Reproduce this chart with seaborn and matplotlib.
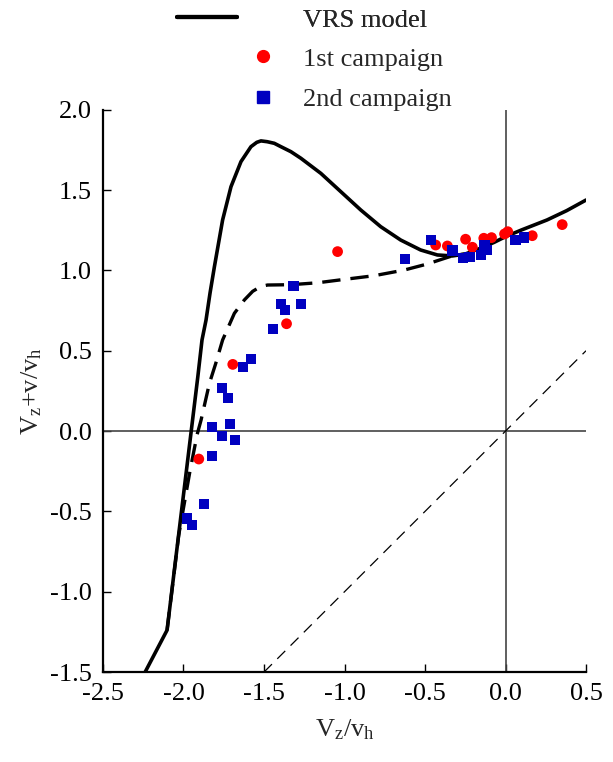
import numpy as np
import pandas as pd
import seaborn as sns
import matplotlib.pyplot as plt
from matplotlib.lines import Line2D

# VRS model (solid)
vrs_x = [-2.242, -2.102, -1.952, -1.911, -1.885, -1.860, -1.835,
         -1.808, -1.757, -1.705, -1.643, -1.581, -1.545, -1.519, -1.48, -1.436, -1.395,
         -1.333, -1.271, -1.147, -1.023, -0.899, -0.775, -0.651, -0.527, -0.423, -0.33,
         -0.25, -0.155, -0.07, 0.0, 0.1, 0.258, 0.38, 0.5]
vrs_y = [-1.507, -1.239, 0.0, 0.338, 0.567, 0.691, 0.86,
         1.023, 1.314, 1.521, 1.677, 1.770, 1.797, 1.806, 1.801, 1.791, 1.770,
         1.739, 1.698, 1.604, 1.490, 1.376, 1.272, 1.189, 1.127, 1.096, 1.090,
         1.102, 1.138, 1.175, 1.210, 1.252, 1.314, 1.372, 1.438]

# lower branch (dashed)
low_x = [-2.102, -2.03, -1.96, -1.915, -1.891, -1.839, -1.80, -1.757, -1.684, -1.622,
         -1.57, -1.52, -1.478, -1.333, -1.167, -1.002, -0.816, -0.630, -0.485, -0.40,
         -0.32, -0.25]
low_y = [-1.239, -0.65, -0.25, -0.02, 0.068, 0.297, 0.42, 0.567, 0.733, 0.816,
         0.870, 0.900, 0.909, 0.911, 0.923, 0.944, 0.967, 1.002, 1.040, 1.068,
         1.094, 1.102]

# y = x reference line
diag_x = [-1.5, 0.5]
diag_y = [-1.5, 0.5]

# 1st campaign
c1_x = [-1.043, -1.36, -1.694, -1.905, -0.434, -0.361, -0.248, -0.206, -0.135,
        -0.087, -0.006, 0.014, 0.166, 0.352]
c1_y = [1.117, 0.668, 0.415, -0.174, 1.158, 1.152, 1.194, 1.144, 1.200,
        1.204, 1.227, 1.241, 1.216, 1.285]

# 2nd campaign
c2_x = [-0.461, -0.626, -0.33, -0.262, -0.223, -0.151, -0.130, -0.114, 0.062, 0.113,
        -1.316, -1.395, -1.370, -1.271, -1.445, -1.581, -1.630,
        -1.763, -1.724, -1.825, -1.711, -1.763, -1.680, -1.825, -1.874, -1.978, -1.947]
c2_y = [1.189, 1.071, 1.123, 1.079, 1.085, 1.096, 1.158, 1.127, 1.189, 1.204,
        0.903, 0.793, 0.753, 0.793, 0.635, 0.450, 0.400,
        0.270, 0.205, 0.025, 0.044, -0.031, -0.054, -0.156, -0.453, -0.544, -0.585]

x_ticks = [-2.5, -2.0, -1.5, -1.0, -0.5, 0.0, 0.5]
y_ticks = [-1.5, -1.0, -0.5, 0.0, 0.5, 1.0, 1.5, 2.0]

RED = '#ff0000'
BLUE = '#0000c0'
FS = 19

sns.set_style('ticks')
plt.rcParams['font.family'] = ['Liberation Serif', 'DejaVu Serif']
plt.rcParams['mathtext.fontset'] = 'custom'
plt.rcParams['mathtext.rm'] = 'Liberation Serif'
plt.rcParams['mathtext.it'] = 'Liberation Serif'

fig = plt.figure(figsize=(6.13, 7.62), dpi=100)
ax = fig.add_axes([0.168, 0.118, 0.788, 0.738])

ax.axhline(0, color='#444444', lw=1.2, zorder=1)
ax.axvline(0, color='#444444', lw=1.2, zorder=1)

sns.lineplot(x=diag_x, y=diag_y, ax=ax, color='black', lw=0.9,
             estimator=None, zorder=2)
ax.lines[-1].set_dashes((9, 6))
sns.lineplot(x=vrs_x, y=vrs_y, ax=ax, color='black', lw=2.6,
             estimator=None, sort=False, zorder=3)
sns.lineplot(x=low_x, y=low_y, ax=ax, color='black', lw=2.4,
             estimator=None, sort=False, zorder=3)
ax.lines[-1].set_dashes((5.5, 3))

sns.scatterplot(x=c1_x, y=c1_y, ax=ax, color=RED, marker='o', s=60,
                edgecolor='none', zorder=4)
sns.scatterplot(x=c2_x, y=c2_y, ax=ax, color=BLUE, marker='s', s=55,
                edgecolor='none', zorder=4)

ax.set_xlim(-2.5, 0.5)
ax.set_ylim(-1.5, 2.0)
ax.set_xticks(x_ticks)
ax.set_yticks(y_ticks)
ax.set_xticklabels([f'{v:.1f}' for v in x_ticks])
ax.set_yticklabels([f'{v:.1f}' for v in y_ticks])
ax.tick_params(direction='in', length=6, width=1, labelsize=FS, pad=8, colors='black')
sns.despine(ax=ax)
for s in ['left', 'bottom']:
    ax.spines[s].set_linewidth(1.6)
    ax.spines[s].set_color('black')

ax.set_xlabel(r'V$_\mathrm{z}$/v$_\mathrm{h}$', fontsize=FS, labelpad=9)
ax.set_ylabel(r'V$_\mathrm{z}$+v/v$_\mathrm{h}$', fontsize=FS, labelpad=4)

# legend: line handle sits further left than the marker handles
leg1 = fig.legend([Line2D([], [], color='black', lw=3)], ['VRS model'],
                  loc='center left', bbox_to_anchor=(177 / 613, 1 - 20 / 762),
                  frameon=False, fontsize=FS, handlelength=60 / 26.4,
                  handletextpad=66 / 26.4, borderpad=0, borderaxespad=0)
fig.add_artist(leg1)
fig.legend([Line2D([], [], color=RED, marker='o', ls='none', markersize=8.5),
            Line2D([], [], color=BLUE, marker='s', ls='none', markersize=8)],
           ['1st campaign', '2nd campaign'],
           loc='center left', bbox_to_anchor=(233 / 613, 1 - 79 / 762),
           frameon=False, fontsize=FS, handlelength=60 / 26.4,
           handletextpad=10 / 26.4, labelspacing=0.64, borderpad=0, borderaxespad=0)

fig.savefig('out.png', dpi=100)
